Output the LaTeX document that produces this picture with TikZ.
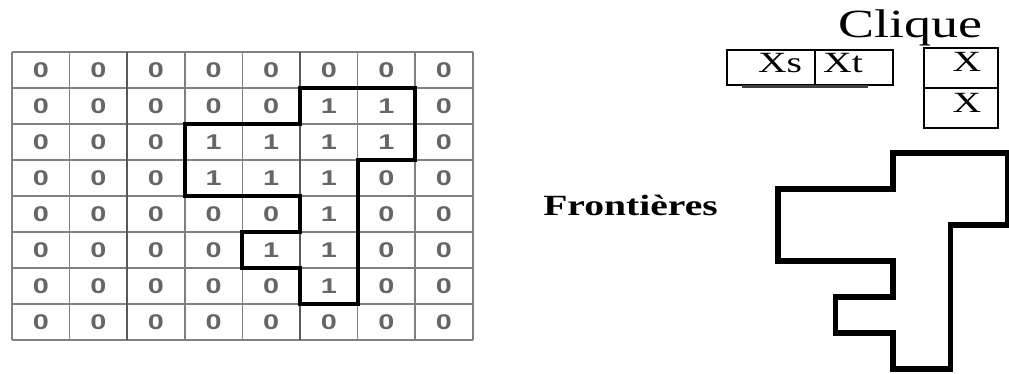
\documentclass[tikz,border=0pt]{standalone}
\usepackage{fontspec}
\usepackage{graphicx}
\setmainfont{Liberation Serif}
\newfontfamily\digitfont{Liberation Sans}
\usetikzlibrary{calc}

% the scan is stretched sideways, so the texts are too
\newcommand{\stretchx}[1]{\scalebox{1.35}[1]{#1}}
% outline of the region of ones, in cell units (column, row from the top)
\newcommand{\blobpath}{(5,1) -- (7,1) -- (7,3) -- (6,3) -- (6,7) -- (5,7) -- (5,6)
  -- (4,6) -- (4,5) -- (5,5) -- (5,4) -- (3,4) -- (3,2) -- (5,2) -- cycle}

\tikzset{
  gridline/.style={draw=black!50, line width=1.2pt},
  digit/.style={text=black!60, font=\digitfont\bfseries\fontsize{16}{16}\selectfont},
  boxline/.style={draw=black, line width=1.4pt},
  label/.style={inner sep=0pt, anchor=base},
}

\begin{document}
\begin{tikzpicture}[x=0.75pt,y=-0.75pt]
  \useasboundingbox (0,0) rectangle (1009,374);
  % the grid of pixel values
  \begin{scope}[shift={(12,52)}, x=43.2pt, y=-27pt]
    \foreach \row [count=\r from 0] in {
        {0,0,0,0,0,0,0,0},
        {0,0,0,0,0,1,1,0},
        {0,0,0,1,1,1,1,0},
        {0,0,0,1,1,1,0,0},
        {0,0,0,0,0,1,0,0},
        {0,0,0,0,1,1,0,0},
        {0,0,0,0,0,1,0,0},
        {0,0,0,0,0,0,0,0}} {
      \foreach \v [count=\c from 0] in \row
        \node[digit] (cell-\r-\c) at (\c+0.5,\r+0.5) {\stretchx{\v}};
    }
    \foreach \i in {0,...,8}
      \draw[gridline] (0,\i) -- (8,\i);
    \foreach \i in {0,1,3,4,6,7,8}
      \draw[gridline] (\i,0) -- (\i,8);
    \foreach \i in {2,5}
      \draw[gridline, draw=black!65, line width=1.7pt] (\i,0) -- (\i,8);
    \draw[line width=3pt, line join=miter] \blobpath;
  \end{scope}

  % clique examples
  \node[label, font=\fontsize{30}{30}\selectfont] (clique) at (910,38) {\stretchx{Clique}};
  \draw[boxline] (727,50) rectangle (815,85);
  \draw[boxline] (815,50) rectangle (893,85);
  \draw[line width=2.2pt, draw=black!75] (742,86.5) -- (868,86.5);
  \node[label, font=\fontsize{22}{22}\selectfont] (xs) at (780,73) {\stretchx{Xs}};
  \node[label, font=\fontsize{22}{22}\selectfont] (xt) at (843,73) {\stretchx{Xt}};
  \draw[boxline] (924,48) rectangle (998,88);
  \draw[boxline] (924,88) rectangle (998,128);
  \node[label, font=\fontsize{22}{22}\selectfont] (xa) at (967,72) {\stretchx{X}};
  \node[label, font=\fontsize{22}{22}\selectfont] (xb) at (967,113) {\stretchx{X}};

  % the boundary on its own
  \node[inner sep=0pt, anchor=base west, font=\bfseries\fontsize{22}{22}\selectfont]
    (front) at (543,215) {\stretchx{Frontières}};
  \begin{scope}[shift={(605.5,117)}, x=43.125pt, y=-27pt]
    \draw[line width=3.8pt, line join=miter] \blobpath;
  \end{scope}
\end{tikzpicture}
\end{document}
